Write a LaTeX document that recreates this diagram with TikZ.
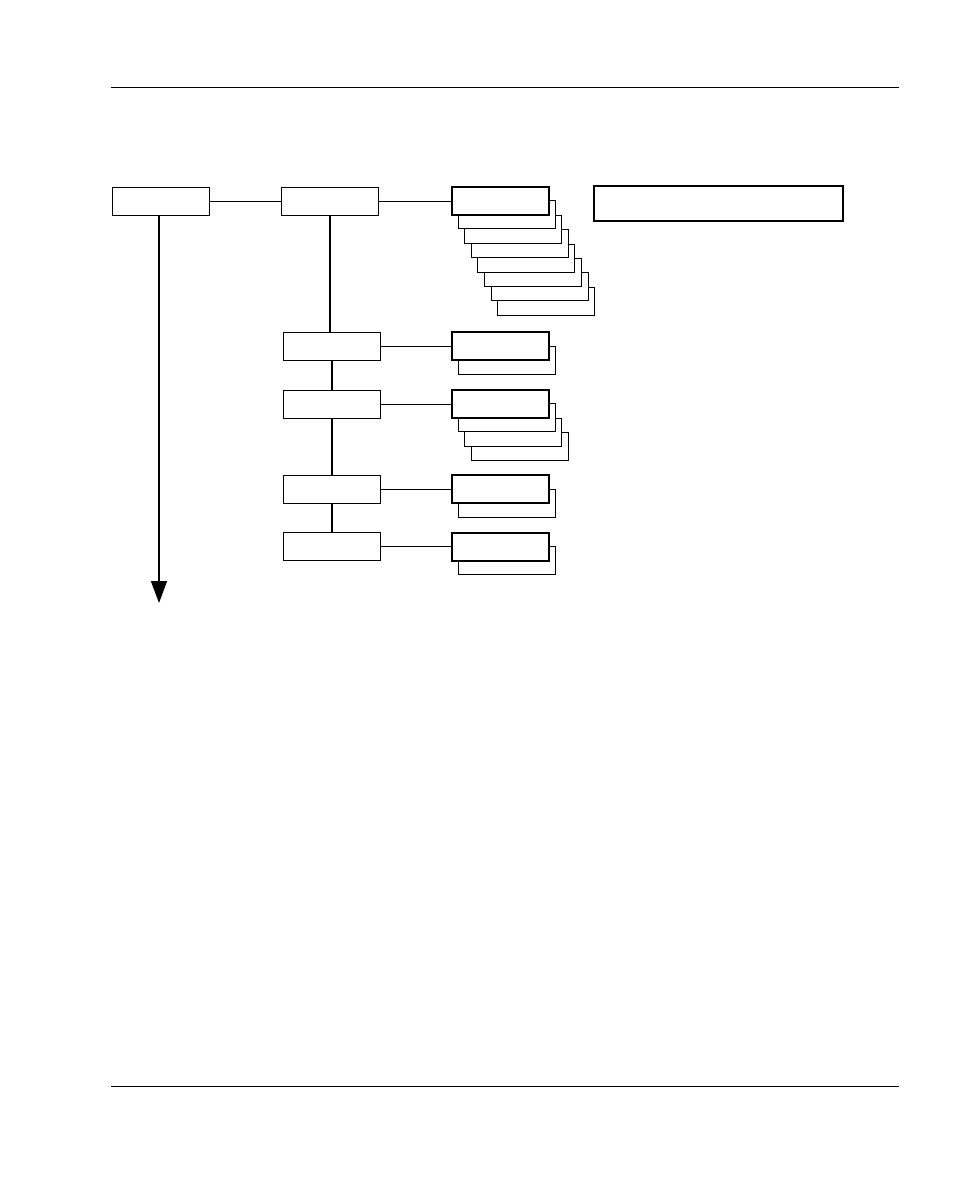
\documentclass[tikz,border=0pt]{standalone}
\usetikzlibrary{arrows.meta}
\begin{document}
\begin{tikzpicture}[x=1pt,y=-1pt,
  box/.style={draw,fill=white,line width=0.8pt,minimum width=97pt,minimum height=28pt,inner sep=0pt,anchor=north west},
  front/.style={box,line width=1.8pt},
  wire/.style={line width=1.5pt}]
\useasboundingbox (0,0) rectangle (954,1181);
\draw[line width=0.7pt] (111,87) -- (899,87);
\draw[line width=0.7pt] (111,1086) -- (899,1086);
\node[box] (a) at (112,187) {};
\node[box] (b) at (281,187) {};
\foreach \i in {7,6,...,1}{
  \node[box] (s\i) at ({451+6.6*\i},{186+14.4*\i}) {};
}
\node[front] (c) at (451,186) {};
\node[front,minimum width=249pt,minimum height=35pt] (r) at (593,185) {};
\node[box] (d) at (283,332) {};
\node[box] (f) at (283,390) {};
\node[box] (g) at (283,475) {};
\node[box] (i) at (283,532) {};
\node[box] (es) at (458,346) {};
\node[front] (e) at (451,331) {};
\foreach \i in {3,2,1}{
  \node[box] (fs\i) at ({451+6.6*\i},{389+14.4*\i}) {};
}
\node[front] (f2) at (451,389) {};
\node[box] (hs) at (458,489) {};
\node[front] (h) at (451,474) {};
\node[box] (js) at (458,546) {};
\node[front] (j) at (451,532) {};
\draw[wire] (a.east) -- (b.west);
\draw[wire] (b.east) -- (b.east -| c.west);
\draw[wire] (b.south) -- (b.south |- d.north);
\draw[wire] (d.south) -- (f.north);
\draw[wire] (f.south) -- (g.north);
\draw[wire] (g.south) -- (i.north);
\draw[wire] (d.east) -- (d.east -| e.west);
\draw[wire] (f.east) -- (f.east -| f2.west);
\draw[wire] (g.east) -- (g.east -| h.west);
\draw[wire] (i.east) -- (i.east -| j.west);
\coordinate (end) at (159,603);
\draw[wire,-{Triangle[length=22pt,width=16pt]}] (a.south -| end) -- (end);
\end{tikzpicture}
\end{document}
